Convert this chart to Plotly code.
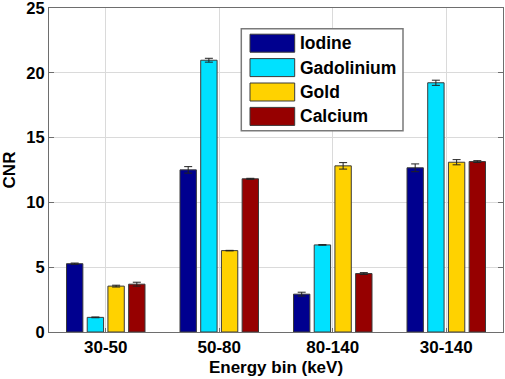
import plotly.graph_objects as go

categories = ["30-50", "50-80", "80-140", "30-140"]
series_names = ["Iodine", "Gadolinium", "Gold", "Calcium"]
iodine = [5.27, 12.51, 2.92, 12.67]
gadolinium = [1.13, 20.97, 6.72, 19.23]
gold = [3.54, 6.28, 12.82, 13.10]
calcium = [3.69, 11.82, 4.51, 13.15]
iodine_err = [0.05, 0.25, 0.15, 0.30]
gadolinium_err = [0.03, 0.15, 0.02, 0.20]
gold_err = [0.07, 0.02, 0.25, 0.20]
calcium_err = [0.15, 0.04, 0.07, 0.07]
colors = ["#00008F", "#00E1FF", "#FFD200", "#960000"]

values = [iodine, gadolinium, gold, calcium]
errors = [iodine_err, gadolinium_err, gold_err, calcium_err]

FONT = "Liberation Sans, Arial, sans-serif"
W, H = 505, 379
ML, MR, MT, MB = 49, 2, 8, 47
PW, PH = W - ML - MR, H - MT - MB


def px(x):
    return (x - ML) / PW


def py(y):
    return (H - MB - y) / PH


fig = go.Figure()
for name, v, e, c in zip(series_names, values, errors, colors):
    fig.add_trace(go.Bar(
        name=name, x=categories, y=v, showlegend=False,
        marker=dict(color=c, line=dict(color="#3a3a3a", width=1)),
        error_y=dict(type="data", array=e, visible=True, color="#222222",
                     thickness=1, width=4),
    ))

# Legend box drawn in paper coordinates (MATLAB-style wide swatches)
shapes = [dict(type="rect", xref="paper", yref="paper",
               x0=px(241.3), x1=px(403), y0=py(130.7), y1=py(28.7),
               fillcolor="white", line=dict(color="#7a7a7a", width=1.5),
               layer="above")]
annotations = []
for i, (name, c) in enumerate(zip(series_names, colors)):
    yc = 43.2 + i * 24.4
    shapes.append(dict(type="rect", xref="paper", yref="paper",
                       x0=px(250), x1=px(294.7), y0=py(yc + 9), y1=py(yc - 9),
                       fillcolor=c, line=dict(color="#3a3a3a", width=1),
                       layer="above"))
    annotations.append(dict(xref="paper", yref="paper", x=px(298), y=py(yc),
                            xanchor="left", yanchor="middle", showarrow=False,
                            text="<b>%s</b>" % name,
                            font=dict(family=FONT, size=17.5, color="black")))

fig.update_layout(
    width=W, height=H,
    margin=dict(l=ML, r=MR, t=MT, b=MB, autoexpand=False),
    paper_bgcolor="white", plot_bgcolor="white",
    barmode="group", bargap=0.27, bargroupgap=0.21,
    font=dict(family=FONT, size=17, color="black"),
    showlegend=False,
    shapes=shapes, annotations=annotations,
    xaxis=dict(
        automargin=False,
        title=dict(text="<b>Energy bin (keV)</b>", standoff=4,
                   font=dict(family=FONT, size=17)),
        tickfont=dict(family=FONT, size=17, weight="bold"),
        showgrid=True, gridcolor="#dadada", gridwidth=1,
        showline=True, linecolor="#6e6e6e", linewidth=1, mirror=True,
        ticks="inside", ticklen=4, tickcolor="#6e6e6e",
    ),
    yaxis=dict(
        automargin=False,
        title=dict(text="<b>CNR</b>", standoff=7,
                   font=dict(family=FONT, size=17)),
        range=[0, 25.0001], tickvals=[0, 5, 10, 15, 20, 25],
        ticklabeloverflow="allow",
        tickfont=dict(family=FONT, size=16.5, weight="bold"),
        showgrid=True, gridcolor="#dadada", gridwidth=1,
        showline=True, linecolor="#6e6e6e", linewidth=1, mirror="allticks",
        ticks="inside", ticklen=5, tickcolor="#6e6e6e", zeroline=False,
    ),
)

fig.write_html("out.html", config={"displayModeBar": False},
               post_script="document.body.style.margin='0px';document.body.style.overflow='hidden';")
